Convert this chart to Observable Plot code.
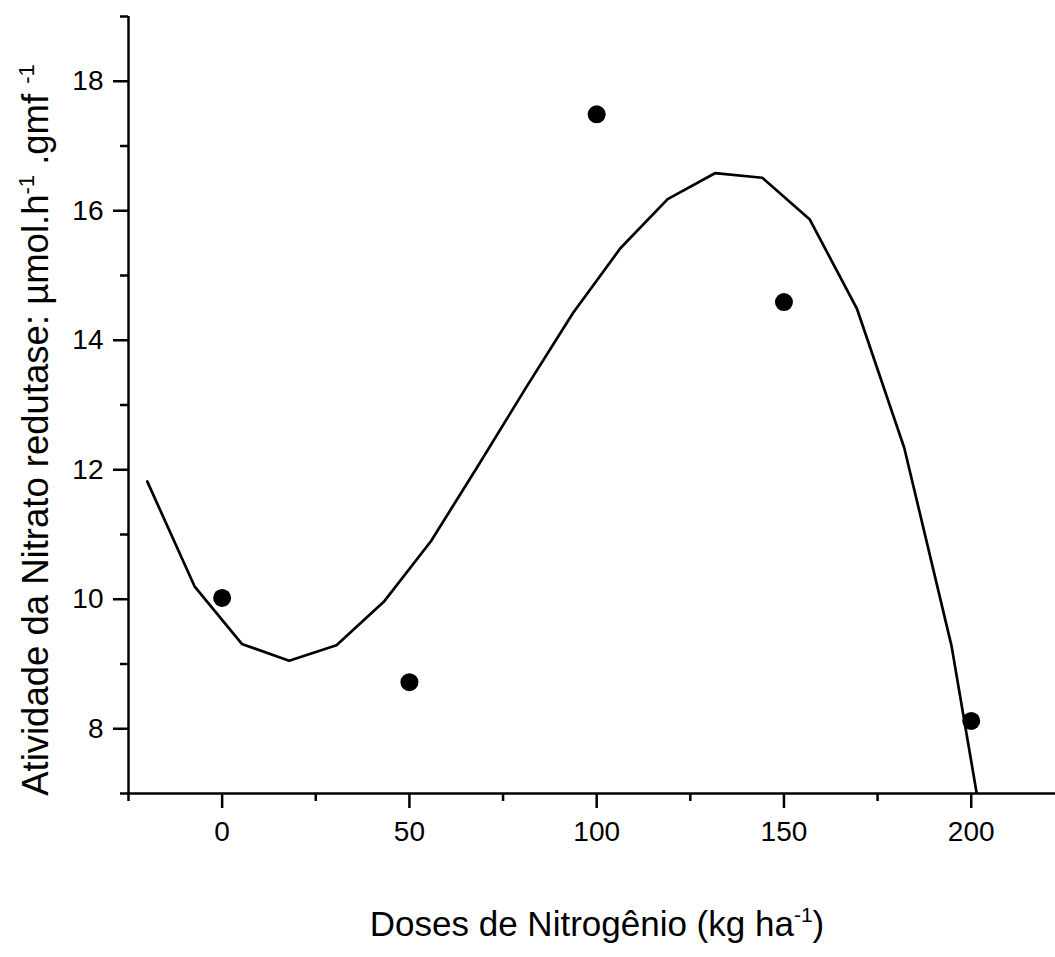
<!DOCTYPE html>
<html><head><meta charset="utf-8">
<script src="https://cdn.jsdelivr.net/npm/d3@7"></script>
<script src="https://cdn.jsdelivr.net/npm/@observablehq/plot@0.6"></script>
<style>body{margin:0;background:#fff;} svg{display:block}</style>
</head><body><div id="chart"></div>
<script>
// Observed points
const doses = [0, 50, 100, 150, 200];
const atividade = [10.02, 8.72, 17.49, 14.59, 8.12];
// Fitted curve as drawn (vertices)
const curveX = [-20, -7.37, 5.26, 17.89, 30.53, 43.16, 55.79, 68.42, 81.05, 93.68, 106.32, 118.95, 131.58, 144.21, 156.84, 169.47, 182.11, 194.74, 207.37];
const curveY = [11.82, 10.20, 9.31, 9.05, 9.29, 9.96, 10.90, 12.07, 13.26, 14.42, 15.42, 16.18, 16.58, 16.51, 15.87, 14.49, 12.34, 9.28, 5.0];
// Ticks
const xMajorTicks = [0, 50, 100, 150, 200];
const xMinorTicks = [-25, 25, 75, 125, 175];
const yMajorTicks = [8, 10, 12, 14, 16, 18];
const yMinorTicks = [7, 9, 11, 13, 15, 17, 19];
// Titles
const xTitle = "Doses de Nitrogênio (kg ha";
const yTitle = "Atividade da Nitrato redutase: µmol.h";

const points = doses.map((d, i) => ({dose: d, value: atividade[i]}));
const curve = curveX.map((x, i) => ({dose: x, value: curveY[i]}));

const chart = Plot.plot({
  width: 1055, height: 957,
  marginLeft: 128, marginRight: 0, marginTop: 16, marginBottom: 164,
  style: {fontFamily: "'Liberation Sans', Arial, sans-serif", fontSize: "28px", background: "white", color: "black"},
  x: {domain: [-25, 222.5]},
  y: {domain: [7, 19]},
  marks: [
    Plot.axisX(xMajorTicks, {tickSize: 15, tickPadding: 13, strokeWidth: 2.5, label: null, fontSize: 28, tickFormat: "d"}),
    Plot.axisX(xMinorTicks, {tickSize: 8, strokeWidth: 2.5, tickFormat: () => "", label: null}),
    Plot.axisY(yMajorTicks, {tickSize: 15, tickPadding: 10, strokeWidth: 2.5, label: null, fontSize: 28, tickFormat: "d"}),
    Plot.axisY(yMinorTicks, {tickSize: 8, strokeWidth: 2.5, tickFormat: () => "", label: null}),
    Plot.ruleX([-25], {strokeWidth: 2.5}),
    Plot.ruleY([7], {strokeWidth: 2.5}),
    Plot.line(curve, {x: "dose", y: "value", strokeWidth: 2.7, clip: true}),
    Plot.dot(points, {x: "dose", y: "value", r: 9, fill: "black"})
  ]
});
document.getElementById("chart").appendChild(chart);

const svg = d3.select(chart);
const ff = "'Liberation Sans', Arial, sans-serif";
const xt = svg.append("text")
  .attr("x", 597).attr("y", 936)
  .attr("text-anchor", "middle")
  .attr("font-family", ff).attr("font-size", 35).attr("fill", "black");
xt.append("tspan").text(xTitle);
xt.append("tspan").attr("font-size", 21).attr("dy", -14).text("-1");
xt.append("tspan").attr("dy", 14).text(")");

const yt = svg.append("text")
  .attr("transform", "translate(48,430) rotate(-90)")
  .attr("text-anchor", "middle")
  .attr("font-family", ff).attr("font-size", 36.5).attr("fill", "black");
yt.append("tspan").text(yTitle);
yt.append("tspan").attr("font-size", 22).attr("dy", -14).text("-1");
yt.append("tspan").attr("dy", 14).text(" .gmf ");
yt.append("tspan").attr("font-size", 22).attr("dy", -14).text("-1");
</script>
</body></html>
